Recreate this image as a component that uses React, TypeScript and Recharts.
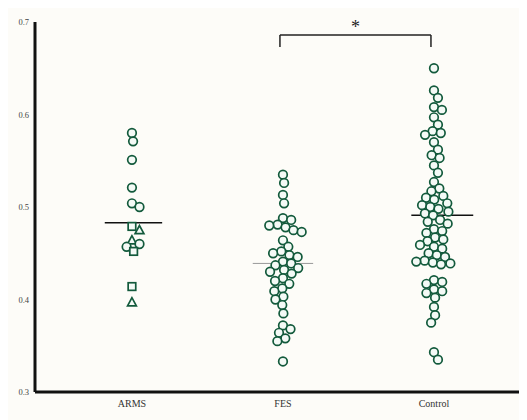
import React from 'react';
import { ScatterChart, Scatter, XAxis, YAxis, ReferenceLine, ReferenceDot } from 'recharts';

const categories = ['ARMS', 'FES', 'Control'];
const yTicks = [0.3, 0.4, 0.5, 0.6, 0.7];

const armsValues = [0.580, 0.571, 0.551, 0.521, 0.504, 0.500, 0.479, 0.475, 0.464, 0.460, 0.457, 0.452, 0.414, 0.397];
const armsShapes = ['circle', 'circle', 'circle', 'circle', 'circle', 'circle', 'square', 'triangle', 'triangle', 'circle', 'circle', 'square', 'square', 'triangle'];

const fesValues = [
  0.535, 0.526, 0.513, 0.504,
  0.488, 0.486, 0.481, 0.480, 0.478, 0.475, 0.473,
  0.464, 0.457, 0.452, 0.450, 0.448, 0.446,
  0.441, 0.439, 0.437, 0.434, 0.432, 0.430, 0.428,
  0.423, 0.420, 0.417, 0.412, 0.409, 0.403, 0.400, 0.394,
  0.385, 0.372, 0.368, 0.364, 0.358, 0.355, 0.333,
];

const controlValues = [
  0.650,
  0.626, 0.618, 0.608, 0.605, 0.597, 0.589,
  0.582, 0.580, 0.578, 0.570, 0.562, 0.556, 0.553, 0.545, 0.537, 0.527,
  0.520, 0.517, 0.512, 0.510, 0.508,
  0.504, 0.502, 0.500, 0.498,
  0.495, 0.493, 0.491,
  0.486, 0.484, 0.482,
  0.476, 0.474, 0.472,
  0.467, 0.465, 0.463,
  0.459, 0.457, 0.455,
  0.450, 0.448, 0.446,
  0.442, 0.441, 0.440, 0.439, 0.438,
  0.421, 0.419, 0.417,
  0.411, 0.409, 0.407,
  0.402, 0.392, 0.383, 0.375,
  0.343, 0.335,
];

const groupMeans = [0.483, 0.439, 0.491];

// chart geometry
const W = 519;
const H = 412;
const M = { top: 14, right: 0, bottom: 0, left: 0 };
const Y_AXIS_W = 27;
const X_AXIS_H = 28;
const X_DOMAIN: [number, number] = [0.358, 3.616];
const Y_DOMAIN: [number, number] = [0.3, 0.7];
const plotW = W - M.left - M.right - Y_AXIS_W;
const plotH = H - M.top - M.bottom - X_AXIS_H;
const pxPerX = plotW / (X_DOMAIN[1] - X_DOMAIN[0]);
const pxPerY = plotH / (Y_DOMAIN[1] - Y_DOMAIN[0]);
const DIAM = 8.4;

// beeswarm layout: offsets computed from the values
function swarm(values: number[], center: number, shapes?: string[]) {
  const placed: { px: number; py: number }[] = [];
  const order = values.map((v, i) => i).sort((a, b) => values[b] - values[a]);
  const out: any[] = new Array(values.length);
  order.forEach((i) => {
    const py = values[i] * pxPerY;
    const forbidden: [number, number][] = [];
    placed.forEach((p) => {
      const dy = Math.abs(p.py - py);
      if (dy < DIAM) {
        const dx = Math.sqrt(DIAM * DIAM - dy * dy);
        forbidden.push([p.px - dx, p.px + dx]);
      }
    });
    const candidates = [0];
    forbidden.forEach(([a, b]) => { candidates.push(a, b); });
    candidates.sort((a, b) => Math.abs(a) - Math.abs(b) || b - a);
    let chosen = 0;
    for (const c of candidates) {
      if (!forbidden.some(([a, b]) => c > a + 1e-6 && c < b - 1e-6)) { chosen = c; break; }
    }
    placed.push({ px: chosen, py });
    out[i] = { x: center + chosen / pxPerX, y: values[i], shape: shapes ? shapes[i] : 'circle' };
  });
  return out;
}

const armsData = swarm(armsValues, 1, armsShapes);
const fesData = swarm(fesValues, 2);
const controlData = swarm(controlValues, 3);

const STROKE = '#135a3c';

const Marker = (props: any) => {
  const { cx, cy, payload } = props;
  const r = 4.3;
  if (payload.shape === 'square') {
    return <rect x={cx - 3.8} y={cy - 3.8} width={7.6} height={7.6} fill="#f4faf6" stroke={STROKE} strokeWidth={1.7} />;
  }
  if (payload.shape === 'triangle') {
    const pts = `${cx},${cy - 4.6} ${cx - 4.4},${cy + 3.5} ${cx + 4.4},${cy + 3.5}`;
    return <polygon points={pts} fill="#f4faf6" stroke={STROKE} strokeWidth={1.7} />;
  }
  return <circle cx={cx} cy={cy} r={r} fill="#f4faf6" stroke={STROKE} strokeWidth={1.7} />;
};

const serif = '"Liberation Serif", "DejaVu Serif", serif';

export default function App() {
  return (
    <div style={{ width: W, height: H, background: '#fdfcf8' }}>
      <ScatterChart width={W} height={H} margin={M}>
        <XAxis
          type="number"
          dataKey="x"
          domain={X_DOMAIN}
          ticks={[1, 2, 3]}
          tickFormatter={(v: number) => categories[Math.round(v) - 1]}
          tickLine={false}
          axisLine={{ stroke: '#111', strokeWidth: 3 }}
          tick={{ fill: '#333', stroke: 'none', fontSize: 10, fontFamily: serif }}
          height={X_AXIS_H}
          allowDataOverflow
        />
        <YAxis
          type="number"
          dataKey="y"
          domain={Y_DOMAIN}
          ticks={yTicks}
          tickFormatter={(v: number) => v.toFixed(1)}
          tickLine={false}
          tickSize={4}
          axisLine={{ stroke: '#111', strokeWidth: 3 }}
          tick={{ fill: '#444', stroke: 'none', fontSize: 8.5, fontFamily: serif }}
          width={Y_AXIS_W}
          allowDataOverflow
        />
        <Scatter data={armsData} shape={Marker} isAnimationActive={false} />
        <Scatter data={fesData} shape={Marker} isAnimationActive={false} />
        <Scatter data={controlData} shape={Marker} isAnimationActive={false} />
        <ReferenceLine segment={[{ x: 0.82, y: groupMeans[0] }, { x: 1.2, y: groupMeans[0] }]} stroke="#111" strokeWidth={1.5} />
        <ReferenceLine segment={[{ x: 1.8, y: groupMeans[1] }, { x: 2.2, y: groupMeans[1] }]} stroke="#999" strokeWidth={1} />
        <ReferenceLine segment={[{ x: 2.85, y: groupMeans[2] }, { x: 3.26, y: groupMeans[2] }]} stroke="#111" strokeWidth={1.5} />
        <ReferenceLine segment={[{ x: 1.98, y: 0.686 }, { x: 2.98, y: 0.686 }]} stroke="#222" strokeWidth={1.5} />
        <ReferenceLine segment={[{ x: 1.98, y: 0.686 }, { x: 1.98, y: 0.673 }]} stroke="#222" strokeWidth={1.5} />
        <ReferenceLine segment={[{ x: 2.98, y: 0.686 }, { x: 2.98, y: 0.673 }]} stroke="#222" strokeWidth={1.5} />
        <ReferenceDot x={2.48} y={0.7} r={0} fill="none" stroke="none"
          label={{ value: '*', position: 'center', fill: '#222', fontSize: 18, fontFamily: serif, dy: 5 }} />
      </ScatterChart>
    </div>
  );
}
